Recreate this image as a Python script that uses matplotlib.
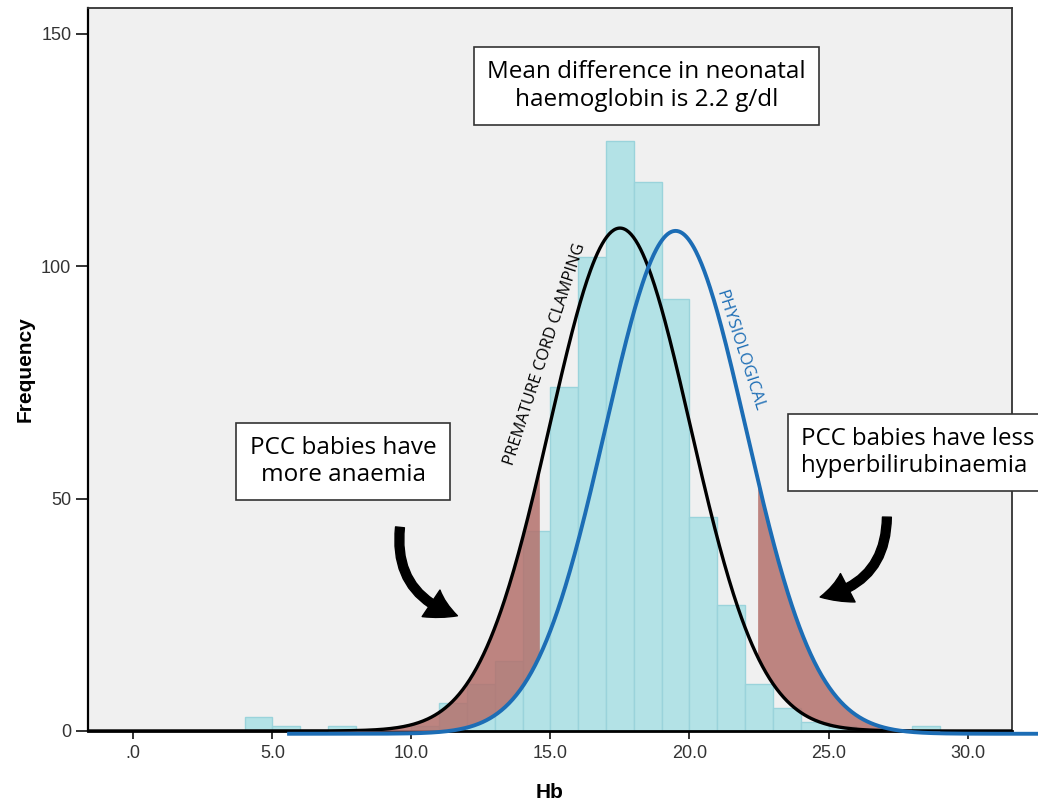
import numpy as np
import matplotlib
matplotlib.use("Agg")
import matplotlib.pyplot as plt
from matplotlib.patches import FancyArrowPatch

# histogram of neonatal Hb, 1 g/dl bins
bin_left = [4, 5, 6, 7, 8, 9, 10, 11, 12, 13, 14, 15, 16, 17, 18, 19, 20,
            21, 22, 23, 24, 25, 26, 27, 28]
counts = [3, 1, 0, 1, 0, 0, 1, 6, 10, 15, 43, 74, 102, 127, 118, 93, 46,
          27, 10, 5, 2, 1, 0, 0, 1]

# normal curves (premature cord clamping vs physiological)
n_total = 686
pcc_mean, pcc_sd = 17.5, 2.53
phys_mean, phys_sd = 19.5, 2.53
phys_drop = 0.6          # blue curve sits a bit under the axis
left_cut, right_cut = 14.6, 22.45

xticks = [0, 5, 10, 15, 20, 25, 30]
xtick_labels = [".0", "5.0", "10.0", "15.0", "20.0", "25.0", "30.0"]
yticks = [0, 50, 100, 150]


def normal(x, m, s):
    return n_total / (s * np.sqrt(2 * np.pi)) * np.exp(-(x - m) ** 2 / (2 * s ** 2))


fig = plt.figure(figsize=(10.38, 8.07), dpi=100)
ax = fig.add_axes([0.0848, 0.0942, 0.975 - 0.0848, 0.990 - 0.0942])
ax.set_facecolor("#f0f0f0")

ax.bar(bin_left, counts, width=1.0, align="edge", color="#b3e2e6",
       edgecolor="#9ad3db", linewidth=1.0, zorder=2)

xb = np.linspace(-1.7, 31.7, 800)
xp = np.linspace(5.6, 32.6, 800)
black = normal(xb, pcc_mean, pcc_sd)
blue = normal(xp, phys_mean, phys_sd) - phys_drop

# shaded tails between the two curves
xl = np.linspace(7.0, left_cut, 300)
ax.fill_between(xl, normal(xl, pcc_mean, pcc_sd),
                np.maximum(normal(xl, phys_mean, phys_sd) - phys_drop, 0),
                color="#b5716c", alpha=0.85, lw=0, zorder=3)
xr = np.linspace(right_cut, 29.0, 300)
ax.fill_between(xr, normal(xr, phys_mean, phys_sd) - phys_drop,
                normal(xr, pcc_mean, pcc_sd),
                color="#b5716c", alpha=0.85, lw=0, zorder=3)

ax.plot(xb, black, color="black", lw=2.4, zorder=4)
ax.plot(xp, blue, color="#1c6db5", lw=2.8, zorder=5, clip_on=False)

ax.set_xlim(-1.63, 31.6)
ax.set_ylim(0, 155.5)
ax.set_xticks(xticks)
ax.set_xticklabels(xtick_labels)
ax.set_yticks(yticks)
ax.tick_params(axis="x", length=6, width=1.3, color="#222", pad=4,
               labelsize=13, labelcolor="#333")
ax.tick_params(axis="y", length=9, width=1.3, color="#222", pad=3,
               labelsize=13, labelcolor="#333")
for lab in ax.get_xticklabels() + ax.get_yticklabels():
    lab.set_family("Liberation Sans")
for sp in ax.spines.values():
    sp.set_color("#333")
    sp.set_linewidth(1.3)
ax.spines["bottom"].set_color("black")
ax.spines["bottom"].set_linewidth(2.0)
ax.spines["left"].set_color("black")
ax.spines["left"].set_linewidth(1.6)

ax.set_xlabel("Hb", family="Liberation Sans", fontweight="bold", fontsize=15)
ax.set_ylabel("Frequency", family="Liberation Sans", fontweight="bold", fontsize=15)
ax.xaxis.set_label_coords(0.5, -0.072)
ax.yaxis.set_label_coords(-0.058, 0.5)

box = dict(boxstyle="square,pad=0.55", facecolor="white", edgecolor="#333", lw=1.2)
ax.text(18.46, 138.8, "Mean difference in neonatal\nhaemoglobin is 2.2 g/dl",
        family="Open Sans", fontsize=17.5, ha="center", va="center",
        linespacing=1.2, bbox=box, zorder=6)
ax.text(7.54, 58.0, "PCC babies have\nmore anaemia",
        family="Open Sans", fontsize=17.5, ha="center", va="center",
        linespacing=1.15, bbox=box, zorder=6)
ax.text(24.02, 59.9, "PCC babies have less\nhyperbilirubinaemia",
        family="Open Sans", fontsize=17.3, ha="left", va="center",
        linespacing=1.15, bbox=box, zorder=6, clip_on=False)

ax.text(14.8, 81.0, "PREMATURE CORD CLAMPING", family="Open Sans",
        fontsize=11.9, rotation=72, ha="center", va="center", color="black", zorder=6)
ax.text(21.82, 81.7, "PHYSIOLOGICAL", family="Open Sans",
        fontsize=12, rotation=-72, ha="center", va="center", color="#1c6db5", zorder=6)

arrow_style = "simple,head_width=1.15,head_length=1.05,tail_width=0.32"
a1 = FancyArrowPatch((9.6, 44.4), (11.75, 24.6), arrowstyle=arrow_style,
                     mutation_scale=20, connectionstyle="arc3,rad=0.42",
                     color="black", zorder=7)
a2 = FancyArrowPatch((27.1, 46.6), (24.6, 28.7), arrowstyle=arrow_style,
                     mutation_scale=20, connectionstyle="arc3,rad=-0.42",
                     color="black", zorder=7)
ax.add_patch(a1)
ax.add_patch(a2)

fig.savefig("out.png", dpi=100)
